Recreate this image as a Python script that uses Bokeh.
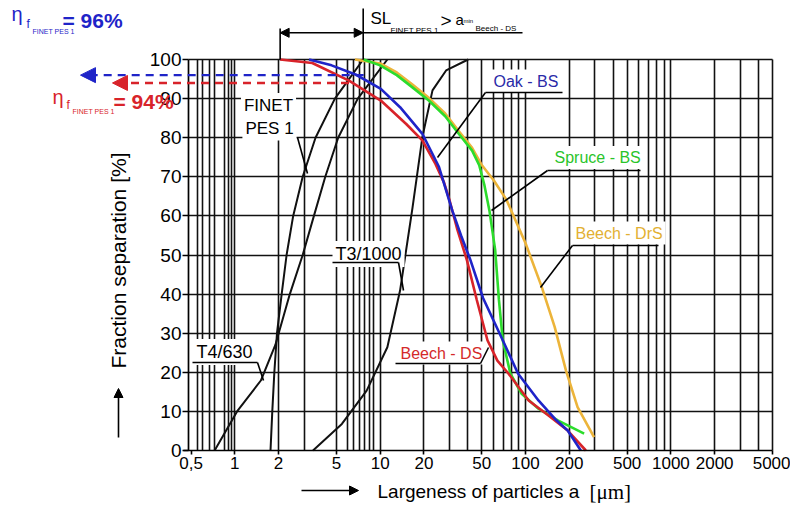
import math
from bokeh.plotting import figure
from bokeh.models import Range1d, FixedTicker, Label, Arrow, NormalHead, Grid
from bokeh.embed import file_html
from bokeh.resources import INLINE

# ---------------- data ----------------
x_ticks = [0.5, 1, 2, 5, 10, 20, 50, 100, 200, 500, 1000, 2000, 5000]
x_tick_labels = ["0,5", "1", "2", "5", "10", "20", "50", "100", "200", "500", "1000", "2000", "5000"]
x_grid = [0.55, 0.6, 0.665, 0.73, 0.85, 0.9, 0.95, 1, 2, 3, 5, 6, 6.6, 7.2, 7.8, 8.4, 9.0,
          10, 20, 30, 40, 50, 60, 70, 80, 90, 100, 200, 300, 400, 500, 600, 700, 800, 900,
          1000, 2000, 3000, 4000, 5000]
y_ticks = [0, 10, 20, 30, 40, 50, 60, 70, 80, 90, 100]
y_grid = [10, 20, 30, 40, 50, 60, 70, 80, 90, 100]

finet_a = [1.76, 1.81, 1.87, 1.95, 2.10, 2.27, 2.52, 2.93, 3.59, 4.88, 7.64]
finet_f = [0, 10, 20, 30, 40, 50, 60, 70, 80, 90, 100]

t4_a = [0.726, 1.036, 1.51, 1.90, 2.39, 2.93, 3.50, 4.19, 5.14, 7.01, 11.2]
t4_f = [0, 10, 17.9, 27, 40, 50, 60, 70, 80, 90, 100]

t3_a = [3.45, 5.45, 8.07, 11.2, 13.7, 16.7, 19.5, 22.9, 28.4, 40.3]
t3_f = [0, 6.8, 15.3, 26.4, 40.9, 62.2, 80.1, 92.1, 97.2, 100]

beech_ds_a = [2.05, 3.41, 6.1, 10.1, 15.1, 19.5, 24.0, 27.5, 30, 34, 39.5, 46.2, 54.7, 64, 76.2, 105, 143, 195, 260]
beech_ds_f = [100, 99.1, 94.6, 89.5, 83.5, 79.3, 73.3, 68.5, 64, 56.4, 48.7, 38.5, 28.2, 23, 19.7, 12.8, 9, 5.1, 0]

oak_bs_a = [3.24, 4.63, 6.83, 10.1, 13.7, 19.5, 25.4, 31.3, 36, 41.5, 51, 69.7, 88.7, 122.7, 160, 195, 240]
oak_bs_f = [100, 98.5, 96.1, 92.5, 87.8, 81.0, 72.5, 61.4, 55, 49, 39, 28.2, 19.7, 12.8, 8, 5.1, 0]

spruce_bs_a = [7.7, 10, 13, 16.5, 21.6, 28, 34.7, 42.9, 48, 52, 56.4, 61.8, 65.6, 69.7, 78.6, 94, 122.7, 166.7, 253]
spruce_bs_f = [100, 98.5, 96, 93, 89.5, 85.5, 81, 76.7, 73, 68, 61.4, 51.3, 38.5, 28.2, 19.7, 14.5, 10.7, 7.7, 4.3]

beech_drs_a = [6.7, 10, 13, 16.5, 21.6, 28, 34.7, 42.9, 50, 60.7, 74, 100, 129, 158.6, 189.6, 228, 296]
beech_drs_f = [100, 99, 96.7, 93.7, 90.2, 86.2, 81.7, 77.4, 73, 69, 64.1, 53, 41.9, 31.6, 20.5, 11.1, 3.4]

eta_values = [96, 94]          # blue, red
eta_line_ends = [7.7, 6.1]     # where the dashed lines end (µm)

# ---------------- styling ----------------
SANS = "Liberation Sans"
BLUE, RED, GREEN, GOLD = "#1f24c8", "#d8232a", "#2cdc2c", "#ecb43a"
W, H = 790, 503

# plotting area (canvas px): 188..772 (x), 59..450 (y)
X0, X1 = 0.48, 5000.0
PXL, PXR, PYT, PYB = 188.0, 772.0, 59.0, 450.0
DEC = (PXR - PXL) / math.log10(X1 / X0)


def X(px):
    return X0 * 10 ** ((px - PXL) / DEC)


def Y(py):
    return (PYB - py) / ((PYB - PYT) / 100.0)


p = figure(width=W, height=H, x_axis_type="log",
           x_range=Range1d(X(0), X(W)), y_range=Range1d(Y(H), Y(0)),
           output_backend="svg", toolbar_location=None,
           min_border_left=0, min_border_right=0, min_border_top=0, min_border_bottom=0)
p.background_fill_color = "white"
p.border_fill_color = "white"
p.outline_line_color = None

p.xaxis.ticker = FixedTicker(ticks=x_ticks, minor_ticks=[])
p.xaxis.major_label_overrides = {t: s for t, s in zip(x_ticks, x_tick_labels)}
p.yaxis.ticker = FixedTicker(ticks=y_ticks, minor_ticks=[])
p.xaxis.fixed_location = 0
p.yaxis.fixed_location = X0
p.xaxis.bounds = (X(183), X1)
p.yaxis.bounds = (0, 100)
for ax in (p.xaxis, p.yaxis):
    ax.major_label_text_font = SANS
    ax.major_label_text_color = "black"
    ax.axis_line_color = "black"
    ax.axis_line_width = 1.7
    ax.major_tick_line_color = "black"
    ax.major_tick_line_width = 1.6
    ax.major_tick_in = 0
    ax.minor_tick_line_color = None
p.xaxis.major_label_text_font_size = "17px"
p.yaxis.major_label_text_font_size = "19px"
p.yaxis.major_tick_out = 6
p.yaxis.major_label_standoff = 1
p.xaxis.major_tick_out = 4
p.xaxis.major_label_standoff = 2

GRID_COLOR, GRID_W = "#111111", 1.6
if "cross_bounds" in Grid.properties():
    p.xgrid.ticker = FixedTicker(ticks=x_grid)
    p.ygrid.ticker = FixedTicker(ticks=y_grid)
    p.xgrid.bounds = (X0, X1)
    p.ygrid.bounds = (0, 100)
    p.xgrid.cross_bounds = (0, 100)
    p.ygrid.cross_bounds = (X0, X1)
    for g in (p.xgrid, p.ygrid):
        g.grid_line_color = GRID_COLOR
        g.grid_line_width = GRID_W
else:
    p.xgrid.visible = False
    p.ygrid.visible = False
    p.segment(x0=x_grid, y0=[0] * len(x_grid), x1=x_grid, y1=[100] * len(x_grid),
              line_color=GRID_COLOR, line_width=GRID_W)
    p.segment(x0=[X0] * len(y_grid), y0=y_grid, x1=[X1] * len(y_grid), y1=y_grid,
              line_color=GRID_COLOR, line_width=GRID_W)

# ---------------- curves ----------------
p.line(t4_a, t4_f, line_color="#111111", line_width=2)
p.line(finet_a, finet_f, line_color="#111111", line_width=2)
p.line(t3_a, t3_f, line_color="#111111", line_width=2)
p.line(beech_drs_a, beech_drs_f, line_color=GOLD, line_width=2.6)
p.line(spruce_bs_a, spruce_bs_f, line_color=GREEN, line_width=2.6)
p.line(beech_ds_a, beech_ds_f, line_color=RED, line_width=2.6)
p.line(oak_bs_a, oak_bs_f, line_color=BLUE, line_width=2.6)


# ---------------- annotations ----------------
def seg(x0, y0, x1, y1, color="black", width=1.6, dash="solid"):
    p.add_layout(Arrow(x_start=x0, y_start=y0, x_end=x1, y_end=y1, start=None, end=None,
                       line_color=color, line_width=width, line_dash=dash))


def lab(px, py, text, size, color="black", font=SANS, align="left", style="normal",
        bg=False, angle=0):
    l = Label(x=X(px), y=Y(py), text=text, text_font=font, text_font_size=f"{size}px",
              text_color=color, text_align=align, text_baseline="middle",
              text_font_style=style, angle=angle, angle_units="deg")
    if bg:
        l.background_fill_color = "white"
        l.background_fill_alpha = 1.0
        l.padding = 3
    p.add_layout(l)


def head(size, color="black"):
    return NormalHead(size=size, fill_color=color, line_color=color)


# curve labels with leader lines
lab(490, 80.5, "Oak - BS", 16, "#2a2aa8", bg=True)
seg(X(485), Y(92), X(562), Y(92))
seg(X(485), Y(92), X(437), Y(157))

lab(551, 157, "Spruce - BS", 16, "#2ac42a", bg=True)
seg(X(547), Y(170), X(640), Y(170))
seg(X(547), Y(170), X(491), Y(210))

lab(572, 232.5, "Beech - DrS", 16, "#e2b033", bg=True)
seg(X(572), Y(245), X(658), Y(245))
seg(X(572), Y(245), X(540), Y(287))

lab(397, 352.5, "Beech - DS", 16, "#d42a2a", bg=True)
seg(X(395), Y(363), X(480), Y(363))
seg(X(480), Y(363), X(488), Y(347))

lab(332, 253.5, "T3/1000", 18, bg=True)
seg(X(332), Y(262), X(398), Y(262))
seg(X(398), Y(262), X(403), Y(290))

lab(193, 351.5, "T4/630", 18, bg=True)
seg(X(192), Y(362), X(257), Y(362))
seg(X(257), Y(362), X(263), Y(380))

lab(268, 105, "FINET", 17, align="center", bg=True)
lab(269, 127.5, "PES 1", 17, align="center", bg=True)
seg(X(297), Y(137), X(307), Y(173))

# SL dimension on top
a_min = beech_ds_a[0]
sl = finet_a[-1]
seg(a_min, 100, a_min, Y(28))
seg(sl, 100, sl, Y(8))
p.add_layout(Arrow(x_start=a_min, y_start=Y(32.3), x_end=sl, y_end=Y(32.3),
                   start=head(9), end=head(9), line_color="black", line_width=1.6))
seg(sl, Y(32.3), X(522), Y(32.3))
lab(370, 17.5, "SL", 17)
lab(390, 29.5, "FINET PES 1", 8)
lab(440, 20, ">", 19)
lab(455, 19, "a", 15)
lab(463, 20, "min", 6)
lab(475, 28, "Beech - DS", 8)

# efficiency arrows
eta_colors = [BLUE, RED]
tips = [80, 112]
for v, e, c, t in zip(eta_values, eta_line_ends, eta_colors, tips):
    p.add_layout(Arrow(x_start=e, y_start=v, x_end=X(t), y_end=v,
                       line_color=c, line_width=2.4, line_dash="8 6", end=head(15, c)))

lab(11, 13, "η", 20, BLUE)
lab(26, 23, "f", 12, BLUE)
lab(32, 30.5, "FINET PES 1", 7, BLUE)
lab(62, 19.5, f"= {eta_values[0]}%", 21, BLUE, style="bold")

lab(52, 96, "η", 20, RED)
lab(66, 104, "f", 12, RED)
lab(72, 111, "FINET PES 1", 7, RED)
lab(113, 101, f"= {eta_values[1]}%", 21, RED, style="bold")

# axis titles with arrows
lab(118, 260, "Fraction separation [%]", 21, align="center", angle=90)
p.add_layout(Arrow(x_start=X(118), y_start=Y(437), x_end=X(118), y_end=Y(388),
                   line_color="black", line_width=1.6, end=head(9)))

lab(377, 491, "Largeness of particles a", 19)
lab(589, 491, "[μm]", 21, font="Liberation Serif")
p.add_layout(Arrow(x_start=X(301), y_start=Y(490), x_end=X(358), y_end=Y(490),
                   line_color="black", line_width=1.6, end=head(9)))

open("out.html", "w").write(file_html(p, INLINE))
